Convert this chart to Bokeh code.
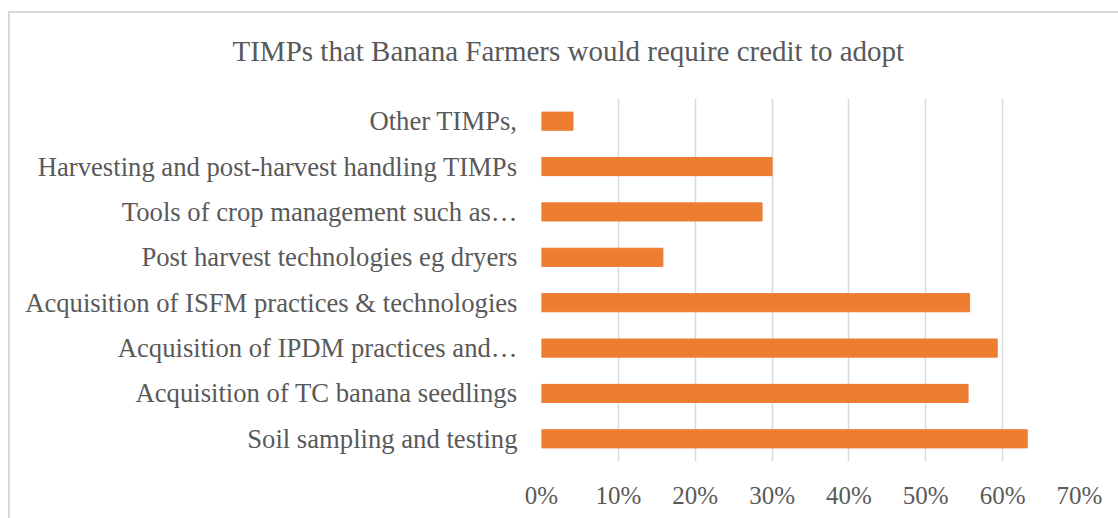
from bokeh.plotting import figure
from bokeh.models import NumeralTickFormatter, FixedTicker, Title, Range1d
from bokeh.embed import file_html
from bokeh.resources import INLINE

title_text = "TIMPs that Banana Farmers would require credit to adopt"
categories = [
    "Soil sampling and testing",
    "Acquisition of TC banana seedlings",
    "Acquisition of IPDM practices and\u2026",
    "Acquisition of ISFM practices & technologies",
    "Post harvest technologies eg dryers",
    "Tools of crop management such as\u2026",
    "Harvesting and post-harvest handling TIMPs",
    "Other TIMPs,",
]
values = [0.632, 0.555, 0.593, 0.557, 0.158, 0.287, 0.300, 0.041]
x_ticks = [0, 0.1, 0.2, 0.3, 0.4, 0.5, 0.6, 0.7]

FONT = "Liberation Serif"
GREY = "#595959"
BORDER = "#d9d9d9"

p = figure(width=1118, height=518, y_range=categories, x_range=Range1d(0, 0.7),
           output_backend="svg", toolbar_location=None,
           min_border_left=541, min_border_right=39, min_border_top=98, min_border_bottom=57)
p.hbar(y=categories, right=values, height=0.4, color="#ED7D31")

p.background_fill_color = None
p.border_fill_color = None
p.styles = {
    "background-color": "white",
    "background-image": f"linear-gradient({BORDER},{BORDER}), linear-gradient({BORDER},{BORDER})",
    "background-size": "2px 510px, 1112px 2px",
    "background-position": "8px 11px, 8px 11px",
    "background-repeat": "no-repeat",
}

p.outline_line_color = None
p.ygrid.grid_line_color = None
p.xgrid.grid_line_color = BORDER
p.xgrid.grid_line_width = 1.5
p.xaxis.ticker = FixedTicker(ticks=x_ticks)
p.xaxis.formatter = NumeralTickFormatter(format="0%")
for ax in (p.xaxis, p.yaxis):
    ax.axis_line_color = None
    ax.major_tick_line_color = None
    ax.minor_tick_line_color = None
    ax.major_label_text_font = FONT
    ax.major_label_text_color = GREY
p.yaxis.major_label_text_font_size = "26.67px"
p.xaxis.major_label_text_font_size = "25px"
p.xaxis.major_label_standoff = 14
p.yaxis.major_label_standoff = 18
p.y_range.range_padding = 0

p.add_layout(Title(text=title_text, text_font=FONT, text_font_size="29px", text_color=GREY,
                   text_font_style="normal", align="left", offset=232 - 541, standoff=64),
             "above")

open("out.html", "w").write(file_html(p, INLINE))
